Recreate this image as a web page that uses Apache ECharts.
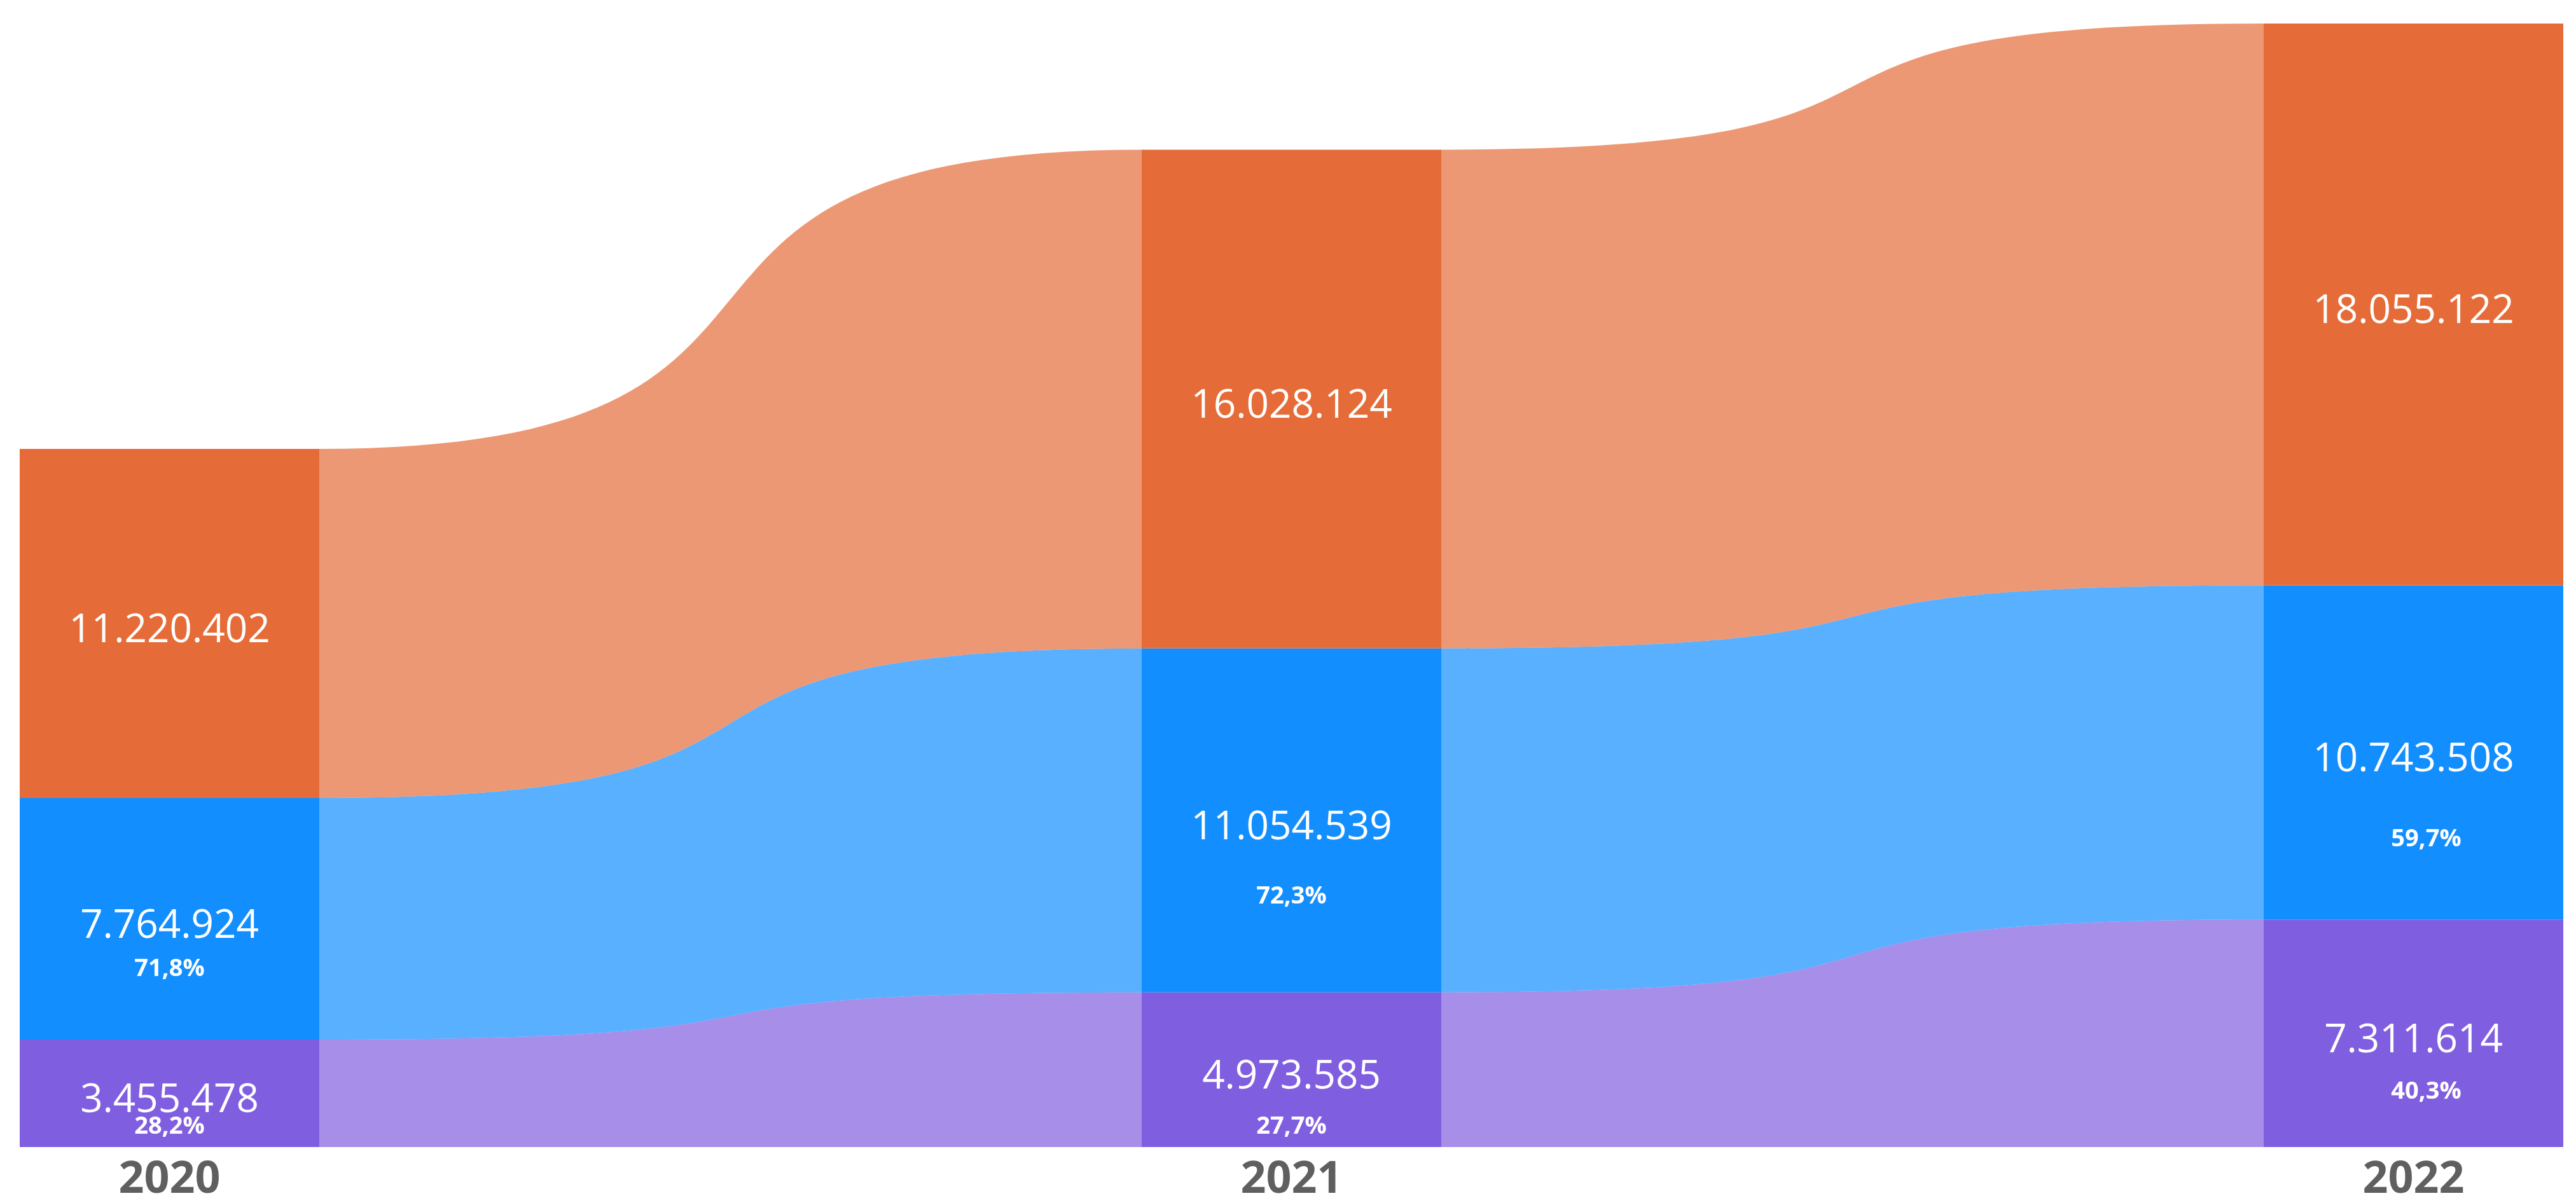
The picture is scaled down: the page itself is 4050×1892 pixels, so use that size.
<!DOCTYPE html>
<html>
<head>
<meta charset="utf-8">
<script src="https://cdn.jsdelivr.net/npm/echarts@6/dist/echarts.min.js"></script>
<style>
    html, body { margin: 0; padding: 0; background: #fff; }
    #main { width: 4050px; height: 1892px; }
</style>
</head>
<body>
<div id="main"></div>
<script>
    // data
    const years = ['2020', '2021', '2022']
    const orangeValues = [11220402, 16028124, 18055122]
    const blueValues = [7764924, 11054539, 10743508]
    const purpleValues = [3455478, 4973585, 7311614]
    const bluePct = ['71,8%', '72,3%', '59,7%']
    const purplePct = ['28,2%', '27,7%', '40,3%']

    // styles (layers from bottom to top: purple, blue, orange)
    const colors = ['#805EE0', '#138EFF', '#E56C39']
    const barRatio = 471 / 1764        // bar width / distance between years
    const curveK = 0.7                 // how far the ribbon control points reach
    const numDy = 12                   // visual centering of the big numbers
    const pctGap = [[43, 80, 82], [69, 110, 127], null]   // px below the number
    const pctDx = [0, 0, 20]

    const layerValues = [purpleValues, blueValues, orangeValues]
    const layerPct = [purplePct, bluePct, null]

    let fmt = v => String(v).replace(/\B(?=(\d{3})+(?!\d))/g, '.')

    // stacked extents per year/layer
    let barData = []
    let stacks = years.map(() => [])
    years.forEach((y, yi) => {
        let base = 0
        layerValues.forEach((vals, li) => {
            stacks[yi][li] = [base, base + vals[yi]]
            barData.push([yi, li, base, base + vals[yi], vals[yi]])
            base += vals[yi]
        })
    })
    let flowData = []
    for (let yi = 0; yi < years.length - 1; yi++) {
        layerValues.forEach((vals, li) => {
            flowData.push([yi, li, stacks[yi][li][0], stacks[yi][li][1], stacks[yi + 1][li][0], stacks[yi + 1][li][1]])
        })
    }
    const yMax = Math.max(...stacks.map(s => s[s.length - 1][1]))

    let halfWidth = api => (api.coord([1, 0])[0] - api.coord([0, 0])[0]) * barRatio / 2

    function renderFlow(params, api) {
        let yi = api.value(0), li = api.value(1)
        let hw = halfWidth(api)
        let a0 = api.coord([yi, api.value(3)]), b0 = api.coord([yi, api.value(2)])
        let a1 = api.coord([yi + 1, api.value(5)]), b1 = api.coord([yi + 1, api.value(4)])
        let x0 = a0[0] + hw - 1, x1 = a1[0] - hw + 1
        let dx = x1 - x0
        let c0 = x0 + curveK * dx, c1 = x1 - curveK * dx
        let d = `M${x0},${a0[1]} C${c0},${a0[1]} ${c1},${a1[1]} ${x1},${a1[1]} ` +
                `L${x1},${b1[1]} C${c1},${b1[1]} ${c0},${b0[1]} ${x0},${b0[1]} Z`
        return {
            type: 'path',
            shape: { pathData: d },
            style: { fill: colors[li], opacity: 0.7 }
        }
    }

    function renderBar(params, api) {
        let yi = api.value(0), li = api.value(1)
        let hw = halfWidth(api)
        let top = api.coord([yi, api.value(3)])
        let bot = api.coord([yi, api.value(2)])
        let cy = (top[1] + bot[1]) / 2
        let children = [{
            type: 'rect',
            shape: { x: top[0] - hw, y: top[1], width: hw * 2, height: bot[1] - top[1] },
            style: { fill: colors[li] }
        }, {
            type: 'text',
            style: {
                text: fmt(api.value(4)), x: top[0], y: cy + numDy,
                align: 'center', verticalAlign: 'middle',
                fill: '#fff', fontSize: 62, fontFamily: 'Open Sans'
            }
        }]
        if (layerPct[li]) {
            children.push({
                type: 'text',
                style: {
                    text: layerPct[li][yi], x: top[0] + pctDx[yi], y: cy + numDy - 4.5 + pctGap[li][yi] + 2.7,
                    align: 'center', verticalAlign: 'middle',
                    fill: '#fff', fontSize: 38, fontWeight: 'bold', fontFamily: 'Open Sans'
                }
            })
        }
        return { type: 'group', children }
    }

    let myChart = echarts.init(document.getElementById('main'))
    myChart.setOption({
        animation: false,
        backgroundColor: '#fff',
        grid: { left: 266.5, right: 255.5, top: 37, bottom: 88, containLabel: false, outerBoundsMode: 'none' },
        xAxis: {
            type: 'category',
            data: years,
            boundaryGap: false,
            axisLine: { show: false },
            axisTick: { show: false },
            splitLine: { show: false },
            axisLabel: {
                margin: 17,
                fontSize: 70,
                fontWeight: 'bold',
                fontFamily: 'Open Sans',
                color: '#5f5f5f'
            }
        },
        yAxis: { type: 'value', min: 0, max: yMax, show: false },
        series: [{
            type: 'custom',
            clip: false,
            renderItem: renderFlow,
            encode: { x: 0, y: 3 },
            data: flowData,
            z: 1
        }, {
            type: 'custom',
            clip: false,
            renderItem: renderBar,
            encode: { x: 0, y: 3 },
            data: barData,
            z: 2
        }]
    })
</script>
</body>
</html>
